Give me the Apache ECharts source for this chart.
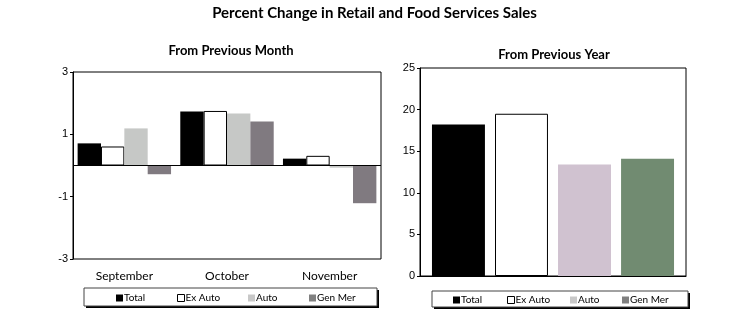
<!DOCTYPE html>
<html><head><meta charset="utf-8">
<script src="https://cdn.jsdelivr.net/npm/echarts@6/dist/echarts.min.js"></script>
<style>html,body{margin:0;padding:0;background:#fff}#c{width:749px;height:334px}</style>
</head><body><div id="c"></div>
<script>
var months = ['September', 'October', 'November'];
var seriesNames = ['Total', 'Ex Auto', 'Auto', 'Gen Mer'];
var monthTotal = [0.71, 1.73, 0.22];
var monthExAuto = [0.61, 1.75, 0.31];
var monthAuto = [1.19, 1.67, -0.07];
var monthGenMer = [-0.28, 1.41, -1.21];
var yearValues = [18.2, 19.5, 13.4, 14.1];
var monthTicks = [-3, 3, 2];
var yearTicks = [0, 25, 5];

var leftColors = ['#000000', '#ffffff', '#c6c8c6', '#807a80'];
var rightColors = ['#000000', '#ffffff', '#d0c2d0', '#718b71'];
var legendColors = ['#000000', '#ffffff', '#c8c8c8', '#808080'];
var monthData = [monthTotal, monthExAuto, monthAuto, monthGenMer];
var leftLegendX = [116, 177, 248, 309];
var rightLegendX = [453, 507, 570, 622];

var chart = echarts.init(document.getElementById('c'));
var series = [];
seriesNames.forEach(function (n, i) {
  var s = {
    name: n, type: 'bar', xAxisIndex: 0, yAxisIndex: 0,
    data: monthData[i], barGap: '0%', barCategoryGap: '9%',
    itemStyle: { color: leftColors[i], borderColor: i === 1 ? '#000' : leftColors[i], borderWidth: i === 1 ? 1 : 0 },
    emphasis: { disabled: true }, animation: false
  };
  if (i === 0) {
    s.markLine = { silent: true, symbol: 'none', label: { show: false },
      lineStyle: { color: '#000', width: 1, type: 'solid' }, data: [{ yAxis: 0 }] };
  }
  series.push(s);
});
seriesNames.forEach(function (n, i) {
  series.push({
    name: n, type: 'bar', xAxisIndex: 1, yAxisIndex: 1,
    data: [yearValues[i]], barGap: '19%', barCategoryGap: '9%',
    itemStyle: { color: rightColors[i], borderColor: i === 1 ? '#000' : rightColors[i], borderWidth: i === 1 ? 1 : 0 },
    emphasis: { disabled: true }, animation: false
  });
});

var legends = [];
function addLegends(xs, top) {
  seriesNames.forEach(function (n, i) {
    legends.push({
      left: xs[i], top: top, padding: 0, icon: 'rect', itemWidth: 7, itemHeight: 7, itemGap: 0,
      selectedMode: false,
      itemStyle: { color: legendColors[i], borderColor: i === 1 ? '#000' : legendColors[i], borderWidth: i === 1 ? 1 : 0 },
      textStyle: { fontFamily: 'Lato', fontSize: 10, color: '#000', padding: [0, 0, 0, -4] },
      data: [n]
    });
  });
}
addLegends(leftLegendX, 293);
addLegends(rightLegendX, 295);

var yLabel = { fontFamily: 'Liberation Sans', fontSize: 11, color: '#000', margin: 5 };

chart.setOption({
  animation: false,
  title: [
    { text: 'Percent Change in Retail and Food Services Sales', left: 'center', top: 1,
      textStyle: { fontFamily: 'Lato', fontWeight: 'bold', fontSize: 15, color: '#000' } },
    { text: 'From Previous Month', left: 226, textAlign: 'center', top: 39,
      textStyle: { fontFamily: 'Lato', fontWeight: 'bold', fontSize: 13, color: '#000' } },
    { text: 'From Previous Year', left: 549, textAlign: 'center', top: 43,
      textStyle: { fontFamily: 'Lato', fontWeight: 'bold', fontSize: 13, color: '#000' } }
  ],
  graphic: [
    { type: 'rect', shape: { x: 86, y: 290, width: 293, height: 18 }, z: 0, style: { fill: '#000' } },
    { type: 'rect', shape: { x: 84, y: 288, width: 293, height: 18 }, z: 1,
      style: { fill: '#fff', stroke: '#444', lineWidth: 1 } },
    { type: 'rect', shape: { x: 434, y: 293, width: 256, height: 16 }, z: 0, style: { fill: '#000' } },
    { type: 'rect', shape: { x: 432, y: 291, width: 256, height: 16 }, z: 1,
      style: { fill: '#fff', stroke: '#444', lineWidth: 1 } }
  ],
  legend: legends,
  grid: [
    { left: 73, top: 72, width: 308, height: 187, show: true, borderColor: '#000', borderWidth: 1, backgroundColor: 'transparent' },
    { left: 420, top: 68, width: 266, height: 208, show: true, borderColor: '#000', borderWidth: 1, backgroundColor: 'transparent' }
  ],
  xAxis: [
    { type: 'category', gridIndex: 0, data: months, axisLine: { show: false }, axisTick: { show: false },
      axisLabel: { fontFamily: 'Lato', fontSize: 12, color: '#000', margin: 11 } },
    { type: 'category', gridIndex: 1, data: [''], axisLine: { show: true, lineStyle: { color: '#000' } },
      axisTick: { show: false }, axisLabel: { show: false } }
  ],
  yAxis: [
    { type: 'value', gridIndex: 0, min: monthTicks[0], max: monthTicks[1], interval: monthTicks[2],
      axisLine: { show: true, lineStyle: { color: '#000' } },
      axisTick: { show: true, inside: false, length: 3, lineStyle: { color: '#000' } },
      splitLine: { show: false }, axisLabel: yLabel },
    { type: 'value', gridIndex: 1, min: yearTicks[0], max: yearTicks[1], interval: yearTicks[2],
      axisLine: { show: true, lineStyle: { color: '#000' } },
      axisTick: { show: true, inside: false, length: 3, lineStyle: { color: '#000' } },
      splitLine: { show: false }, axisLabel: yLabel }
  ],
  series: series
});
</script>
</body></html>
